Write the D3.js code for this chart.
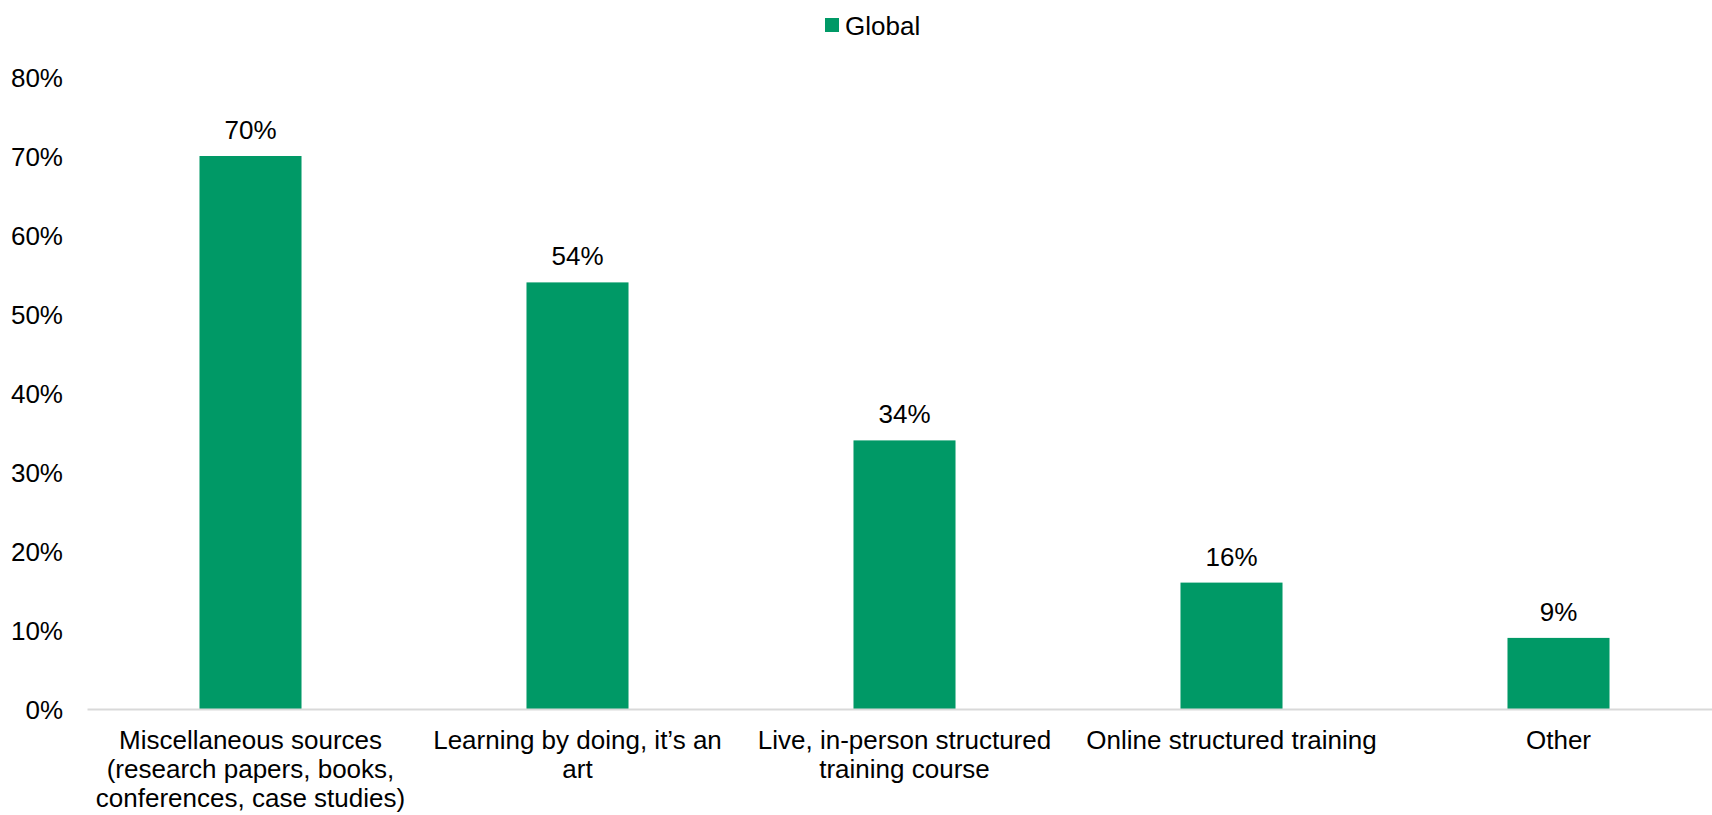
<!DOCTYPE html>
<html>
<head>
<meta charset="utf-8">
<script src="https://cdn.jsdelivr.net/npm/d3@7"></script>
<style>
  html, body { margin: 0; padding: 0; background: #ffffff; }
  svg { display: block; }
  text { font-family: "Liberation Sans", Arial, sans-serif; fill: #000000; }
</style>
</head>
<body>
<svg id="chart" width="1712" height="815"></svg>
<script>
// Share of respondents by learning source
const categories = [
  "Miscellaneous sources (research papers, books, conferences, case studies)",
  "Learning by doing, it\u2019s an art",
  "Live, in-person structured training course",
  "Online structured training",
  "Other"
];
const globalValues = [70, 54, 34, 16, 9];
const yTicks = [0, 10, 20, 30, 40, 50, 60, 70, 80];
const seriesName = "Global";

const W = 1712, H = 815;
const green = "#009966";
const fontSize = 26;

const svg = d3.select("#chart");

const x = d3.scaleBand()
  .domain(categories)
  .range([87, 1722])
  .padding(0);

const y = d3.scaleLinear()
  .domain([0, 80])
  .range([709, 77]);

const barW = x.bandwidth() * 0.312;

// y axis labels (no axis line, no ticks)
const yAxis = d3.axisLeft(y)
  .tickValues(yTicks)
  .tickFormat(d => d + "%")
  .tickSize(0)
  .tickPadding(0);

const gy = svg.append("g")
  .attr("transform", "translate(63,0)")
  .call(yAxis);
gy.select(".domain").remove();
gy.selectAll("text")
  .attr("font-size", fontSize)
  .attr("font-family", "Liberation Sans, Arial, sans-serif")
  .attr("fill", "#000")
  .attr("dy", "0.35em");

// bars
svg.append("g")
  .selectAll("rect")
  .data(globalValues)
  .join("rect")
  .attr("x", (d, i) => x(categories[i]) + (x.bandwidth() - barW) / 2)
  .attr("y", d => y(d))
  .attr("width", barW)
  .attr("height", d => y(0) - y(d))
  .attr("fill", green);

// value labels
svg.append("g")
  .selectAll("text")
  .data(globalValues)
  .join("text")
  .attr("x", (d, i) => x(categories[i]) + x.bandwidth() / 2)
  .attr("y", d => y(d) - 17)
  .attr("text-anchor", "middle")
  .attr("font-size", fontSize)
  .text(d => d + "%");

// category axis
const xAxis = d3.axisBottom(x).tickSize(0).tickFormat("");
const gx = svg.append("g")
  .attr("transform", `translate(0,${y(0)})`)
  .call(xAxis);
gx.select(".domain").attr("stroke", "#d9d9d9").attr("stroke-width", 2);

// wrapped category labels
const maxLabelW = 318;
const lineH = 29;
const labels = svg.append("g");
categories.forEach(cat => {
  const cx = x(cat) + x.bandwidth() / 2;
  const t = labels.append("text")
    .attr("x", cx)
    .attr("y", 749)
    .attr("text-anchor", "middle")
    .attr("font-size", fontSize);
  const words = cat.split(" ");
  let line = [];
  let tspan = t.append("tspan").attr("x", cx).attr("dy", 0);
  words.forEach(w => {
    line.push(w);
    tspan.text(line.join(" "));
    if (tspan.node().getComputedTextLength() > maxLabelW && line.length > 1) {
      line.pop();
      tspan.text(line.join(" "));
      line = [w];
      tspan = t.append("tspan")
        .attr("x", cx)
        .attr("dy", lineH)
        .text(w);
    }
  });
});

// legend
const legend = svg.append("g");
legend.append("rect")
  .attr("x", 825).attr("y", 18)
  .attr("width", 14).attr("height", 14)
  .attr("fill", green);
legend.append("text")
  .attr("x", 845).attr("y", 34.5)
  .attr("font-size", fontSize)
  .text(seriesName);
</script>
</body>
</html>
